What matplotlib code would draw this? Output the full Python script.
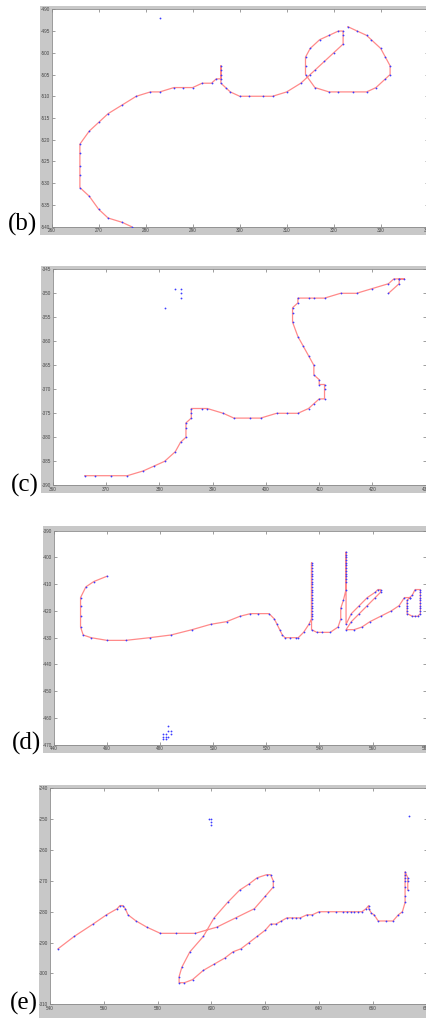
import matplotlib
matplotlib.use("Agg")
import matplotlib.pyplot as plt
from matplotlib.patches import Rectangle

plt.rcParams['axes.unicode_minus'] = False

W, H = 427, 1018

# ---------------- data ----------------
# panel (b)
b_x = [277, 275, 272, 270, 268, 266, 266, 266, 266, 266, 268, 270, 272, 275, 278, 281, 283, 286, 288, 290,
       292, 294, 295, 296, 296, 296, 296, 296, 297, 298, 300, 302, 305, 307, 310, 313, 315, 316, 318, 320,
       322, 322, 322, 321, 319, 317, 315, 314, 314, 314, 316, 319, 321, 324, 327, 329, 331, 332, 332, 331,
       330, 328, 327, 325, 323]
b_y = [-540, -539, -538, -536, -533, -531, -528, -526, -523, -521, -518, -516, -514, -512, -510, -509, -509, -508, -508, -508,
       -507, -507, -506, -506, -505, -504, -503, -507, -508, -509, -510, -510, -510, -510, -509, -507, -505, -504, -502, -500,
       -498, -496, -495, -495, -496, -497, -499, -501, -503, -505, -508, -509, -509, -509, -509, -508, -506, -505, -503, -501,
       -499, -497, -496, -495, -494]
b_iso_x = [283]
b_iso_y = [-492]

# panel (c)
c_x = [366, 368, 371, 374, 377, 379, 381, 383, 384, 385, 385, 385, 386, 386, 386, 388, 389, 392, 394, 397,
       399, 402, 404, 406, 408, 409, 410, 411, 411, 411, 410, 410, 409, 409, 408, 407, 406, 405, 405, 405,
       406, 406, 408, 409, 411, 414, 417, 420, 423, 424, 425, 426, 425, 425, 423]
c_y = [-388, -388, -388, -388, -387, -386, -385, -383, -381, -380, -378, -377, -376, -375, -374, -374, -374, -375, -376, -376,
       -376, -375, -375, -375, -374, -373, -372, -372, -370, -369, -369, -368, -367, -365, -363, -361, -359, -356, -354, -353,
       -352, -351, -351, -351, -351, -350, -350, -349, -348, -347, -347, -347, -347, -348, -350]
c_iso_x = [383, 384, 384, 384, 381]
c_iso_y = [-349, -349, -350, -351, -353]

# panel (d)
d_x = [460, 455, 452, 450, 450, 450, 450, 451, 454, 460, 467, 476, 484, 492, 499, 505, 510, 514, 517, 521,
       523, 524, 525, 526, 527, 529, 531, 532, 534, 536, 537,
       537, 537, 537, 537, 537, 537, 537, 537, 537, 537, 537, 537, 537, 537, 537, 537, 537, 537, 537, 537, 537,
       537, 539, 541, 544, 547, 548, 548, 549, 550, 550,
       550, 550, 550, 550, 550, 550, 550, 550, 550, 550, 550,
       550, 552, 555, 558, 561, 562, 563, 563, 561, 558, 555, 552, 550,
       553, 556, 559, 563, 567, 570, 572, 574, 575, 576, 578, 578, 578, 578, 578, 578, 578, 578, 578, 578,
       577, 576, 575, 573, 573, 573, 573, 573, 573, 574]
d_y = [-407, -409, -411, -415, -418, -422, -426, -429, -430, -431, -431, -430, -429, -427, -425, -424, -422, -421, -421, -421,
       -423, -425, -427, -429, -430, -430, -430, -430, -428, -425, -423,
       -422, -421, -420, -419, -418, -417, -416, -415, -414, -413, -412, -411, -410, -409, -408, -407, -406, -405, -404, -403, -402,
       -427, -428, -428, -428, -426, -423, -419, -416, -412, -409,
       -408, -407, -406, -405, -404, -403, -402, -401, -400, -399, -398,
       -425, -421, -418, -415, -413, -412, -412, -413, -415, -418, -421, -424, -427,
       -427, -426, -424, -422, -420, -418, -415, -415, -414, -412, -412, -413, -414, -415, -416, -417, -418, -419, -420, -421,
       -422, -422, -422, -421, -420, -419, -418, -417, -416, -415]
d_iso_x = [483, 483, 484, 484, 482, 481, 481, 482, 483, 481, 482]
d_iso_y = [-463, -465, -465, -466, -466, -466, -467, -467, -467, -468, -468]

# panel (e)
e_x = [543, 549, 556, 561, 565, 566, 567, 568, 569, 572, 576, 581, 587, 594, 602, 609, 616, 620, 623, 623,
       622, 620.5, 617, 614, 610.5, 606, 601, 597, 592, 589, 588, 588, 590, 593, 597, 601, 605, 608, 611, 614,
       617, 620, 622, 624, 626, 628, 630, 631.5, 633, 635.5, 637.5, 640, 643.5, 646.5, 649, 650.5, 652, 653, 654.5, 656,
       657.5, 658.5, 658.5, 659.5, 660.5, 662, 665, 667.5, 669.5, 671, 672, 672, 672, 672, 672, 672, 672, 673, 673, 673]
e_y = [-292, -288, -284, -281, -279, -278, -278, -279, -281, -283, -285, -287, -287, -287, -285, -282, -279, -275, -272, -270,
       -268, -268, -269, -271, -273, -277, -282, -288, -293, -298, -301, -303, -303, -302, -299, -297, -295, -293, -292, -290,
       -288, -286, -284, -284, -283, -282, -282, -282, -282, -281, -281, -280, -280, -280, -280, -280, -280, -280, -280, -280,
       -279, -278, -279, -280.5, -281, -283, -283, -283, -281, -280, -277, -275, -272, -270, -269, -268, -267, -269, -270, -273]
e_iso_x = [599, 600, 600, 600, 673.5]
e_iso_y = [-250, -250, -251, -252, -249]

b_xticks = [260, 270, 280, 290, 300, 310, 320, 330, 340]
b_yticks = [-540, -535, -530, -525, -520, -515, -510, -505, -500, -495, -490]
c_xticks = [360, 370, 380, 390, 400, 410, 420, 430]
c_yticks = [-390, -385, -380, -375, -370, -365, -360, -355, -350, -345]
d_xticks = [440, 460, 480, 500, 520, 540, 560, 580]
d_yticks = [-470, -460, -450, -440, -430, -420, -410, -400, -390]
e_xticks = [540, 560, 580, 600, 620, 640, 660, 680]
e_yticks = [-310, -300, -290, -280, -270, -260, -250, -240]

labels = ["(b)", "(c)", "(d)", "(e)"]

# ---------------- layout ----------------
fig = plt.figure(figsize=(W / 100, H / 100), dpi=100)
fig.patch.set_facecolor('white')


def frect(x0, y0, x1, y1):
    return [x0 / W, 1 - y1 / H, (x1 - x0) / W, (y1 - y0) / H]


panels = [
    dict(gray=(40, 6, 427, 235), ax=(51.7, 9.3, 427.7, 226.7), xlim=(260, 340), ylim=(-540, -490),
         x=b_x, y=b_y, ix=b_iso_x, iy=b_iso_y, xt=b_xticks, yt=b_yticks, lab=(8, 224)),
    dict(gray=(41, 266, 427, 493), ax=(52.7, 269.3, 425.8, 485.3), xlim=(360, 430), ylim=(-390, -345),
         x=c_x, y=c_y, ix=c_iso_x, iy=c_iso_y, xt=c_xticks, yt=c_yticks, lab=(11, 485)),
    dict(gray=(43, 526, 427, 753), ax=(54.0, 530.7, 425.7, 744.7), xlim=(440, 580), ylim=(-470, -390),
         x=d_x, y=d_y, ix=d_iso_x, iy=d_iso_y, xt=d_xticks, yt=d_yticks, lab=(12, 743)),
    dict(gray=(39, 785, 427, 1018), ax=(50.0, 788.3, 426.6, 1004.3), xlim=(540, 680), ylim=(-310, -240),
         x=e_x, y=e_y, ix=e_iso_x, iy=e_iso_y, xt=e_xticks, yt=e_yticks, lab=(10, 1003)),
]

line_col = '#ff8a8a'
pt_col = '#3c3cff'

for p, lab in zip(panels, labels):
    gx0, gy0, gx1, gy1 = p['gray']
    r = frect(gx0, gy0, gx1, gy1)
    fig.add_artist(Rectangle((r[0], r[1]), r[2], r[3], transform=fig.transFigure,
                             facecolor='#c8c8c8', edgecolor='none', zorder=0))
    ax = fig.add_axes(frect(*p['ax']))
    ax.set_facecolor('white')
    ax.plot(p['x'], p['y'], '-', color=line_col, lw=0.9, zorder=2)
    ax.plot(p['x'], p['y'], 'o', color=pt_col, ms=1.3, mec='none', zorder=3)
    ax.plot(p['ix'], p['iy'], 'o', color=pt_col, ms=1.3, mec='none', zorder=3)
    ax.set_xlim(*p['xlim'])
    ax.set_ylim(*p['ylim'])
    ax.set_xticks(p['xt'])
    ax.set_yticks(p['yt'])
    ax.set_xticklabels([str(v) for v in p['xt']])
    ax.set_yticklabels([str(v) for v in p['yt']])
    ax.tick_params(direction='in', length=2.5, width=0.5, color='#777777',
                   top=True, right=True, labelsize=3.3, labelcolor='#444444', pad=1.2)
    for s in ax.spines.values():
        s.set_color('#8a8a8a')
        s.set_linewidth(0.6)
    for t in ax.get_xticklabels() + ax.get_yticklabels():
        t.set_fontfamily('Liberation Sans')
    lx, ly = p['lab']
    fig.text(lx / W, 1 - ly / H, lab, fontsize=18, family='Liberation Serif',
             ha='left', va='center', color='black')

fig.savefig('out.png', dpi=100, facecolor='white')
